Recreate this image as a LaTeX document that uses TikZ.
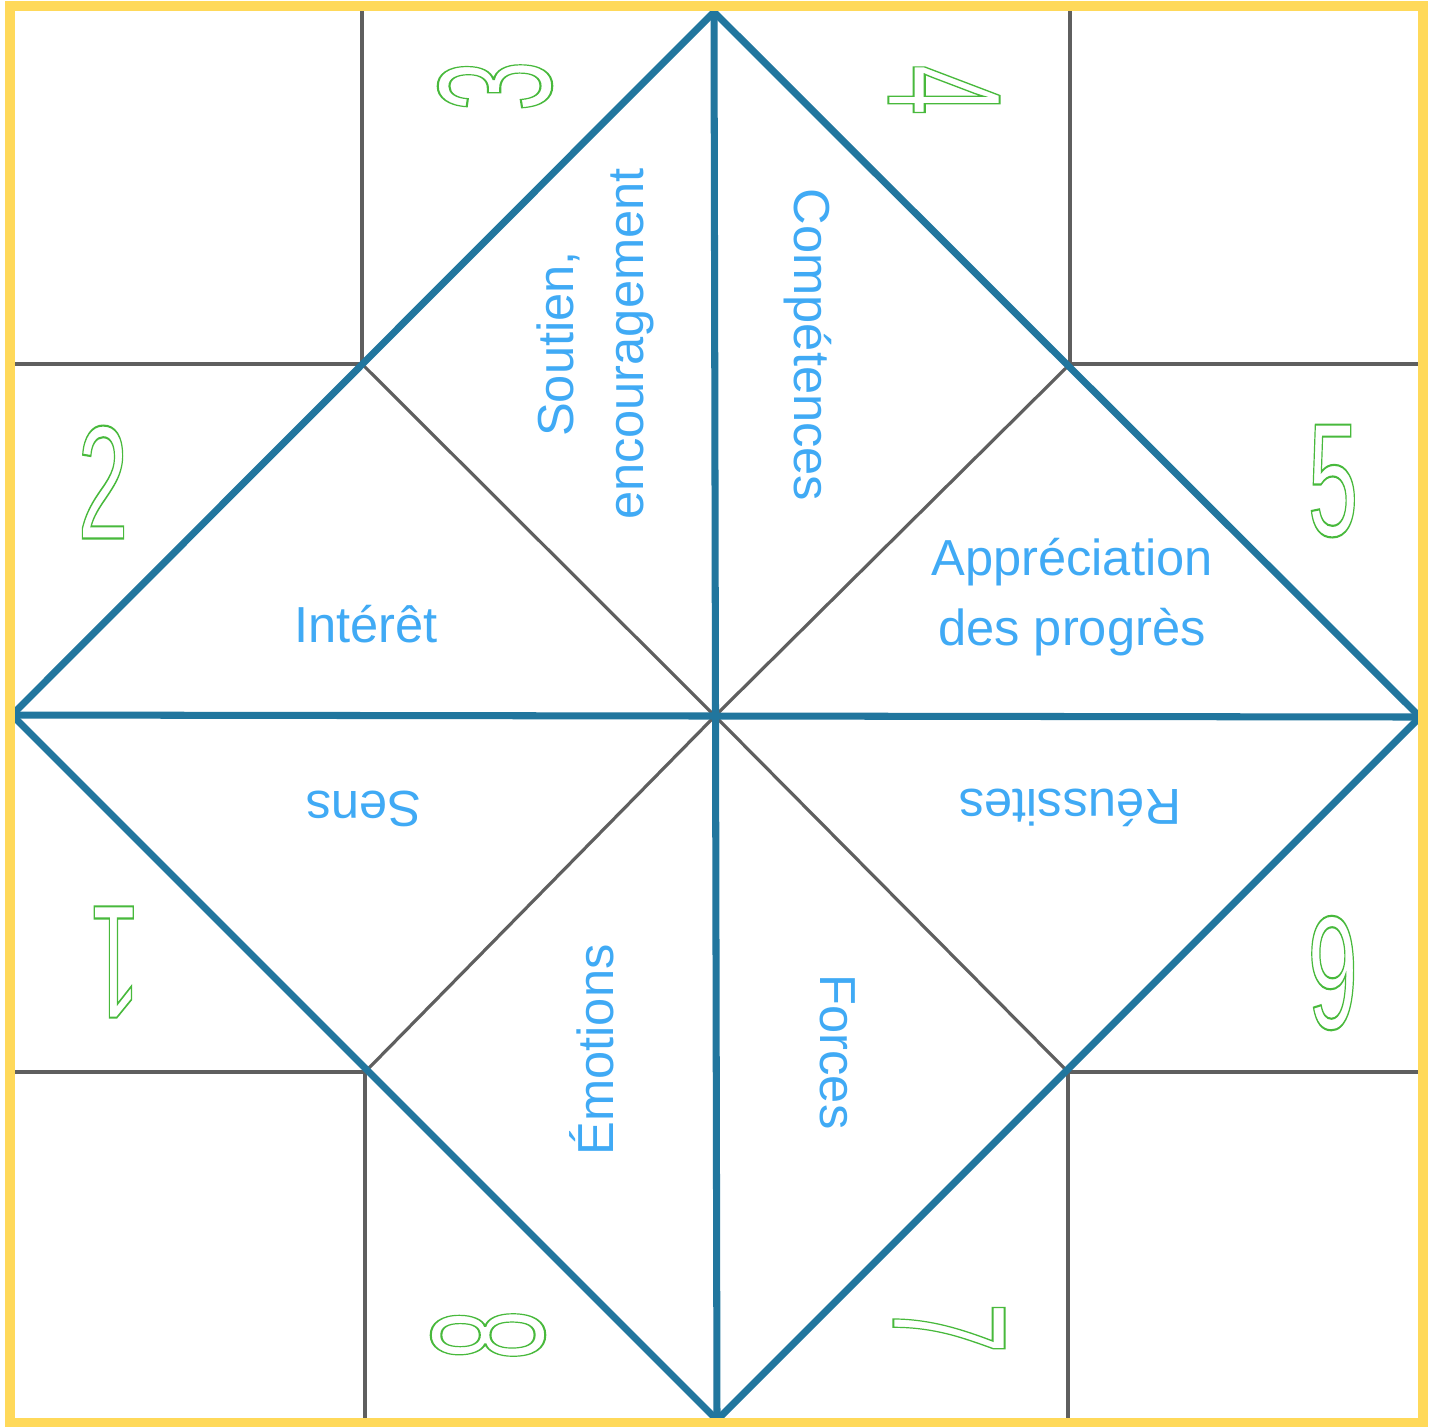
\documentclass[tikz,border=0pt]{standalone}
\usepackage{fontspec}
\setmainfont{Liberation Sans}

\definecolor{foldgray}{RGB}{95,95,95}
\definecolor{flapblue}{RGB}{33,118,158}
\definecolor{framegold}{RGB}{255,217,90}
\definecolor{wordblue}{RGB}{64,170,245}
\definecolor{numgreen}{RGB}{72,185,60}

% hollow digits: stroke the outline only
\newcommand\hollow[1]{\special{pdf:literal direct 1 Tr 0.6 w}#1\special{pdf:literal direct 0 Tr}}

\tikzset{
  foldline/.style={draw=foldgray, line width=0.9pt},
  flapline/.style={draw=flapblue, line width=2pt, line join=miter},
  flaptext/.style={text=wordblue, font=\fontsize{14.4}{19.9}\selectfont, align=center, inner sep=0pt},
  flapnum/.style={text=numgreen, font=\fontsize{46}{46}\selectfont, inner sep=0pt, xscale=0.56}
}

\begin{document}
\begin{tikzpicture}[x=0.01cm, y=-0.01cm]
    \useasboundingbox (0,0) rectangle (1439,1426);
    \fill[white] (0,0) rectangle (1439,1426);

    \coordinate (f1) at (10,6);
    \coordinate (f2) at (1423,1423);
    \coordinate (top) at (714,12);
    \coordinate (left) at (12,715);
    \coordinate (right) at (1420,717);
    \coordinate (bottom) at (717,1420);
    \coordinate (c) at (715,716);
    \coordinate (nw) at (362,364);
    \coordinate (ne) at (1070,364);
    \coordinate (sw) at (365,1072);
    \coordinate (se) at (1068,1072);

    % fold lines of the paper
    \draw[foldline] (nw |- f1) -- (nw) -- (nw -| f1);
    \draw[foldline] (ne |- f1) -- (ne) -- (ne -| f2);
    \draw[foldline] (sw |- f2) -- (sw) -- (sw -| f1);
    \draw[foldline] (se |- f2) -- (se) -- (se -| f2);
    \draw[foldline] (nw) -- (c) -- (se);
    \draw[foldline] (ne) -- (c) -- (sw);

    % inner flaps
    \draw[flapline] (top) -- (right) -- (bottom) -- (left) -- cycle;
    \draw[flapline] (top) -- (bottom);
    \draw[flapline] (left) -- (right);

    \draw[draw=framegold, line width=2.6pt] (f1) rectangle (f2);

    \node[flaptext, rotate=90] (soutien) at (595,344) {Soutien,\\encouragement};
    \node[flaptext, rotate=-90] (competences) at (808,345) {Compétences};
    \node[flaptext] (appreciation) at (1072,597) {Appréciation\\des progrès};
    \node[flaptext] (interet) at (366,624) {Intérêt};
    \node[flaptext, rotate=180] (sens) at (364,809) {Sens};
    \node[flaptext, rotate=180] (reussites) at (1070,808) {Réussites};
    \node[flaptext, rotate=90] (emotions) at (592,1050) {Émotions};
    \node[flaptext, rotate=-90] (forces) at (838,1052) {Forces};

    \node[rotate=90, flapnum] (n3) at (495,86) {\hollow{3}};
    \node[rotate=-90, flapnum] (n4) at (944,90) {\hollow{4}};
    \node[flapnum] (n2) at (103,482) {\hollow{2}};
    \node[flapnum] (n5) at (1333,481) {\hollow{5}};
    \node[rotate=180, flapnum] (n1) at (115,962) {\hollow{1}};
    \node[rotate=180, flapnum] (n6) at (1333,973) {\hollow{6}};
    \node[rotate=-90, flapnum] (n7) at (949,1328) {\hollow{7}};
    \node[rotate=90, flapnum] (n8) at (488,1335) {\hollow{8}};
\end{tikzpicture}
\end{document}
